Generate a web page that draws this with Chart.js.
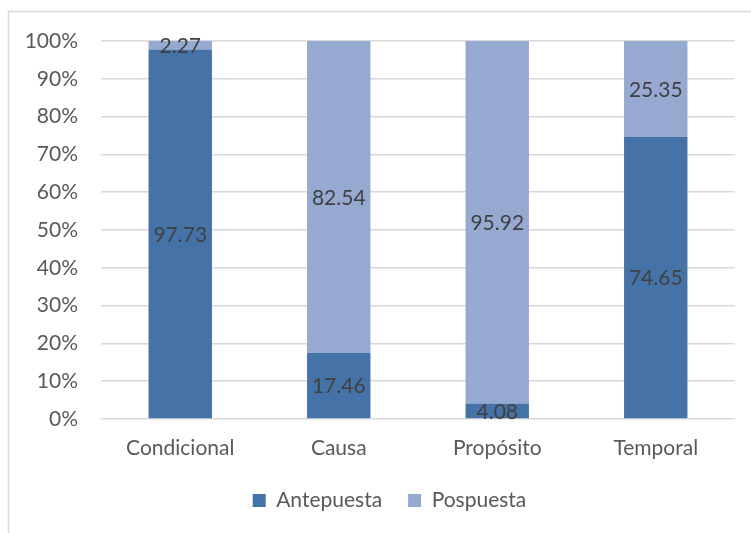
<!DOCTYPE html>
<html><head><meta charset="utf-8">
<script src="https://cdn.jsdelivr.net/npm/chart.js@4/dist/chart.umd.min.js"></script>
<style>html,body{margin:0;padding:0;background:#fff;}#wrap{width:751px;height:533px;position:relative;}</style>
</head><body><div id="wrap"><canvas id="c" width="751" height="533"></canvas></div>
<script>
const categories = ["Condicional", "Causa", "Propósito", "Temporal"];
const antepuesta = [97.73, 17.46, 4.08, 74.65];
const pospuesta = [2.27, 82.54, 95.92, 25.35];
const seriesNames = ["Antepuesta", "Pospuesta"];
const FONT = "Lato, 'Open Sans', sans-serif";
const FS = 21;

const borderPlugin = {
  id: 'outerBorder',
  beforeDraw(chart) {
    const ctx = chart.ctx;
    ctx.save();
    ctx.fillStyle = '#fff';
    ctx.fillRect(0, 0, chart.width, chart.height);
    ctx.strokeStyle = '#d9d9d9';
    ctx.lineWidth = 1.5;
    ctx.strokeRect(8.5, 11.5, 800, 600);
    ctx.restore();
  }
};
const legendShift = {
  id: 'legendShift',
  afterLayout(chart) {
    if (chart.legend) { chart.legend.left += 22; chart.legend.right += 22; }
  }
};
const labelPlugin = {
  id: 'segLabels',
  afterDatasetsDraw(chart) {
    const ctx = chart.ctx;
    ctx.save();
    ctx.font = FS + "px " + FONT;
    ctx.fillStyle = '#404040';
    ctx.textAlign = 'center';
    ctx.textBaseline = 'middle';
    chart.data.datasets.forEach((ds, i) => {
      const meta = chart.getDatasetMeta(i);
      meta.data.forEach((bar, j) => {
        const y = (bar.y + bar.base) / 2;
        ctx.fillText(ds.data[j].toFixed(2), bar.x, y + 1);
      });
    });
    ctx.restore();
  }
};

new Chart(document.getElementById('c'), {
  type: 'bar',
  data: {
    labels: categories,
    datasets: [
      { label: seriesNames[0], data: antepuesta, backgroundColor: '#4573A7' },
      { label: seriesNames[1], data: pospuesta, backgroundColor: '#95A9D1' }
    ]
  },
  options: {
    responsive: false,
    animation: false,
    layout: { padding: { left: 0, right: 16, top: 41, bottom: 12 } },
    datasets: { bar: { categoryPercentage: 1, barPercentage: 0.4 } },
    scales: {
      x: {
        stacked: true,
        afterFit(scale) { scale.height = 45; },
        grid: { display: false, drawTicks: false },
        border: { display: false },
        ticks: { color: '#595959', font: { size: FS, family: FONT }, padding: 17 }
      },
      y: {
        stacked: true,
        min: 0, max: 100,
        afterFit(scale) { scale.width = 101; },
        grid: { color: '#d9d9d9', lineWidth: 1.5, drawTicks: false },
        border: { display: false },
        ticks: { stepSize: 10, color: '#595959', font: { size: FS, family: FONT }, padding: 23,
          callback: v => v + '%' }
      }
    },
    plugins: {
      legend: {
        position: 'bottom',
        labels: { color: '#595959', font: { size: FS, family: FONT }, boxWidth: 13, boxHeight: 13, padding: 26 }
      },
      tooltip: { enabled: false }
    }
  },
  plugins: [borderPlugin, legendShift, labelPlugin]
});
</script></body></html>
